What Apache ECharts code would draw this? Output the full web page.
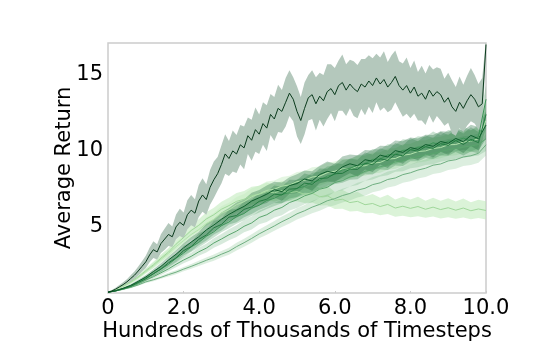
<!DOCTYPE html>
<html>
<head>
<meta charset="utf-8">
<script src="https://cdn.jsdelivr.net/npm/echarts@6/dist/echarts.min.js"></script>
<style>
  html, body { margin: 0; padding: 0; background: #fff; }
  #chart { width: 540px; height: 360px; }
</style>
</head>
<body>
<div id="chart"></div>
<script>
// x axis: hundreds of thousands of timesteps
const xTicks = [0, 2, 4, 6, 8, 10];
const yTicks = [5, 10, 15];

// dark run (sampled every 0.1)
const meanA = [
  0.50, 0.58, 0.70, 0.85, 1.00, 1.18, 1.40, 1.62, 1.90, 2.20,
  2.50, 2.95, 3.30, 3.15, 3.70, 4.00, 4.30, 4.15, 4.80, 5.10,
  4.90, 5.60, 5.90, 5.70, 6.50, 6.90, 6.60, 7.40, 7.90, 8.30,
  8.90, 9.60, 9.30, 9.80, 9.60, 10.20, 10.00, 10.80, 10.50, 11.20,
  10.90, 11.60, 11.30, 12.20, 11.90, 12.60, 12.40, 13.00, 13.60, 13.20,
  12.40, 11.80, 12.60, 13.30, 13.50, 12.90, 13.40, 13.10, 13.70, 13.90,
  13.50, 14.10, 14.30, 13.80, 14.20, 13.90, 13.70, 14.20, 14.00, 14.40,
  14.10, 14.60, 14.20, 14.50, 14.00, 14.30, 14.70, 14.10, 13.80, 14.10,
  13.60, 14.00, 13.40, 13.60, 13.20, 13.80, 13.40, 13.70, 13.50, 13.00,
  13.30, 12.70, 12.40, 13.00, 12.60, 13.10, 13.50, 13.20, 12.70, 12.90,
  16.80
];
const spreadA = [
  0.05, 0.07, 0.10, 0.12, 0.15, 0.18, 0.22, 0.25, 0.30, 0.34,
  0.40, 0.48, 0.55, 0.50, 0.62, 0.70, 0.75, 0.68, 0.82, 0.90,
  0.85, 0.95, 1.00, 0.92, 1.05, 1.10, 1.00, 1.15, 1.20, 1.10,
  1.25, 1.30, 1.15, 1.35, 1.25, 1.30, 1.40, 1.20, 1.35, 1.45,
  1.30, 1.40, 1.50, 1.35, 1.45, 1.55, 1.40, 1.60, 1.50, 1.45,
  1.65, 1.55, 1.70, 1.50, 1.60, 1.75, 1.55, 1.70, 1.80, 1.60,
  1.75, 1.65, 1.85, 1.70, 1.60, 1.80, 1.75, 1.65, 1.85, 1.70,
  1.80, 1.60, 1.75, 1.85, 1.65, 1.80, 1.70, 1.60, 1.75, 1.85,
  1.65, 1.75, 1.60, 1.80, 1.70, 1.65, 1.75, 1.60, 1.70, 1.55,
  1.65, 1.75, 1.60, 1.70, 1.55, 1.65, 1.75, 1.60, 1.50, 1.70,
  0.40
];

// other runs (sampled every 0.2)
const meanB = [
  0.50, 0.60, 0.76, 0.95, 1.22, 1.50, 1.86, 2.20, 2.62, 3.00,
  3.42, 3.80, 4.15, 4.60, 4.92, 5.30, 5.62, 5.90, 6.15, 6.50,
  6.72, 6.95, 7.25, 7.12, 7.52, 7.65, 7.95, 7.82, 8.25, 8.45,
  8.35, 8.75, 8.95, 8.82, 9.22, 9.12, 9.52, 9.40, 9.82, 9.70,
  10.02, 9.90, 10.22, 10.10, 10.42, 10.30, 10.62, 10.40, 10.82, 10.60,
  11.50
];
const spreadB = [
  0.02, 0.04, 0.06, 0.08, 0.10, 0.13, 0.16, 0.20, 0.22, 0.26,
  0.30, 0.34, 0.32, 0.40, 0.38, 0.45, 0.42, 0.50, 0.46, 0.54,
  0.50, 0.58, 0.52, 0.60, 0.55, 0.62, 0.56, 0.64, 0.58, 0.66,
  0.60, 0.68, 0.62, 0.70, 0.64, 0.70, 0.62, 0.72, 0.66, 0.74,
  0.66, 0.72, 0.64, 0.74, 0.68, 0.76, 0.66, 0.74, 0.70, 0.78,
  0.90
];
const meanC = [
  0.50, 0.58, 0.73, 0.88, 1.14, 1.38, 1.72, 2.02, 2.43, 2.76,
  3.24, 3.50, 3.98, 4.26, 4.74, 4.96, 5.44, 5.55, 5.95, 6.12,
  6.48, 6.62, 6.95, 6.90, 7.28, 7.32, 7.68, 7.60, 7.98, 8.02,
  8.30, 8.32, 8.60, 8.58, 8.98, 8.90, 9.28, 9.18, 9.58, 9.48,
  9.88, 9.78, 10.08, 9.96, 10.28, 10.16, 10.48, 10.22, 10.56, 10.34,
  12.20
];
const spreadC = [
  0.02, 0.03, 0.05, 0.08, 0.11, 0.12, 0.17, 0.18, 0.24, 0.25,
  0.32, 0.30, 0.38, 0.36, 0.44, 0.40, 0.48, 0.44, 0.52, 0.48,
  0.56, 0.50, 0.58, 0.54, 0.62, 0.56, 0.64, 0.58, 0.66, 0.60,
  0.68, 0.62, 0.70, 0.64, 0.72, 0.66, 0.70, 0.64, 0.74, 0.68,
  0.76, 0.66, 0.74, 0.70, 0.78, 0.68, 0.76, 0.72, 0.80, 0.70,
  0.90
];
const meanD = [
  0.50, 0.61, 0.74, 0.93, 1.14, 1.44, 1.70, 2.03, 2.33, 2.73,
  3.08, 3.48, 3.78, 4.18, 4.48, 4.88, 5.12, 5.48, 5.68, 6.04,
  6.22, 6.54, 6.68, 6.94, 7.06, 7.34, 7.46, 7.74, 7.86, 8.14,
  8.26, 8.54, 8.66, 8.84, 8.96, 9.24, 9.26, 9.54, 9.56, 9.84,
  9.86, 10.04, 10.06, 10.34, 10.16, 10.44, 10.46, 10.64, 10.46, 10.74,
  13.20
];
const spreadD = [
  0.02, 0.04, 0.05, 0.07, 0.10, 0.14, 0.15, 0.20, 0.21, 0.27,
  0.28, 0.34, 0.33, 0.40, 0.37, 0.44, 0.41, 0.48, 0.45, 0.52,
  0.47, 0.56, 0.50, 0.58, 0.52, 0.60, 0.55, 0.63, 0.57, 0.64,
  0.58, 0.66, 0.60, 0.68, 0.62, 0.68, 0.63, 0.70, 0.64, 0.72,
  0.65, 0.72, 0.66, 0.74, 0.67, 0.74, 0.68, 0.76, 0.70, 0.76,
  0.90
];
const meanE = [
  0.50, 0.58, 0.70, 0.86, 1.06, 1.30, 1.52, 1.78, 2.04, 2.34,
  2.62, 2.86, 3.16, 3.40, 3.74, 4.00, 4.28, 4.52, 4.84, 5.06,
  5.42, 5.60, 5.90, 6.08, 6.40, 6.58, 6.84, 7.00, 7.28, 7.40,
  7.72, 7.84, 8.08, 8.20, 8.46, 8.58, 8.76, 8.86, 9.08, 9.14,
  9.32, 9.42, 9.54, 9.62, 9.76, 9.88, 9.96, 10.06, 10.12, 10.22,
  10.60
];
const spreadE = [
  0.02, 0.03, 0.05, 0.06, 0.08, 0.10, 0.12, 0.14, 0.16, 0.19,
  0.21, 0.24, 0.26, 0.29, 0.31, 0.34, 0.36, 0.38, 0.40, 0.43,
  0.44, 0.47, 0.48, 0.51, 0.52, 0.54, 0.55, 0.58, 0.58, 0.61,
  0.60, 0.63, 0.62, 0.65, 0.63, 0.66, 0.64, 0.67, 0.65, 0.68,
  0.66, 0.69, 0.67, 0.70, 0.68, 0.70, 0.68, 0.71, 0.69, 0.72,
  0.80
];
const meanF = [
  0.50, 0.60, 0.70, 0.82, 0.98, 1.18, 1.32, 1.48, 1.66, 1.82,
  2.02, 2.20, 2.40, 2.60, 2.78, 3.00, 3.20, 3.50, 3.76, 4.04,
  4.34, 4.60, 4.86, 5.14, 5.38, 5.66, 5.86, 6.10, 6.28, 6.52,
  6.66, 6.86, 7.00, 7.22, 7.34, 7.58, 7.70, 7.92, 8.02, 8.24,
  8.36, 8.54, 8.66, 8.86, 8.94, 9.14, 9.22, 9.40, 9.48, 9.64,
  10.20
];
const spreadF = [
  0.02, 0.03, 0.04, 0.05, 0.06, 0.08, 0.09, 0.10, 0.12, 0.13,
  0.14, 0.16, 0.17, 0.19, 0.20, 0.22, 0.23, 0.25, 0.26, 0.28,
  0.29, 0.31, 0.32, 0.34, 0.35, 0.37, 0.38, 0.40, 0.41, 0.43,
  0.44, 0.45, 0.46, 0.48, 0.49, 0.50, 0.51, 0.52, 0.53, 0.54,
  0.55, 0.56, 0.57, 0.58, 0.58, 0.59, 0.60, 0.60, 0.61, 0.62,
  0.70
];
const meanG = [
  0.50, 0.68, 0.92, 1.18, 1.52, 1.92, 2.30, 2.74, 3.14, 3.66,
  4.10, 4.56, 4.90, 5.32, 5.60, 5.96, 6.20, 6.48, 6.62, 6.86,
  6.94, 7.12, 7.04, 7.20, 7.06, 7.12, 6.94, 7.02, 6.78, 6.86,
  6.55, 6.62, 6.40, 6.48, 6.26, 6.34, 6.14, 6.28, 6.04, 6.16,
  6.02, 6.14, 5.96, 6.10, 5.94, 6.06, 5.90, 6.04, 5.86, 5.98,
  5.88
];
const spreadG = [
  0.02, 0.04, 0.07, 0.10, 0.13, 0.16, 0.20, 0.24, 0.27, 0.31,
  0.34, 0.38, 0.41, 0.44, 0.46, 0.50, 0.52, 0.55, 0.54, 0.58,
  0.56, 0.60, 0.57, 0.62, 0.58, 0.63, 0.56, 0.62, 0.58, 0.64,
  0.57, 0.62, 0.58, 0.64, 0.56, 0.62, 0.58, 0.63, 0.57, 0.62,
  0.58, 0.64, 0.56, 0.62, 0.58, 0.63, 0.57, 0.62, 0.56, 0.60,
  0.60
];
const meanH = [
  0.50, 0.66, 0.88, 1.14, 1.46, 1.86, 2.24, 2.66, 3.06, 3.50,
  3.90, 4.30, 4.62, 5.02, 5.30, 5.70, 5.92, 6.26, 6.46, 6.78,
  6.98, 7.20, 7.28, 7.48, 7.56, 7.78, 7.86, 8.08, 8.14, 8.36,
  8.46, 8.62, 8.60, 8.80, 8.82, 9.00, 9.04, 9.26, 9.30, 9.52,
  9.58, 9.76, 9.80, 9.96, 10.02, 10.20, 10.22, 10.38, 10.44, 10.60,
  11.80
];
const spreadH = [
  0.02, 0.04, 0.06, 0.09, 0.12, 0.15, 0.18, 0.22, 0.25, 0.28,
  0.31, 0.35, 0.37, 0.40, 0.42, 0.46, 0.47, 0.50, 0.51, 0.54,
  0.55, 0.58, 0.58, 0.61, 0.60, 0.63, 0.62, 0.65, 0.63, 0.66,
  0.64, 0.67, 0.65, 0.68, 0.66, 0.69, 0.67, 0.70, 0.68, 0.71,
  0.69, 0.72, 0.70, 0.72, 0.71, 0.73, 0.71, 0.74, 0.72, 0.74,
  0.90
];

function steps(n, step) {
  const out = [];
  for (let i = 0; i < n; i++) out.push(+(i * step).toFixed(2));
  return out;
}

const series = [];
function addRun(mean, spread, step, line, band, width) {
  const xs = steps(mean.length, step);
  const rows = xs.map((x, i) => [x, mean[i] - spread[i], mean[i] + spread[i]]);
  // shaded band drawn as one polygon through the axis scales
  series.push({
    type: 'custom', silent: true, clip: true,
    encode: { x: 0, y: [1, 2] },
    data: rows,
    renderItem: function (params, api) {
      if (params.dataIndex !== 0) return;
      const pts = [];
      for (let i = 0; i < rows.length; i++) pts.push(api.coord([rows[i][0], rows[i][1]]));
      for (let i = rows.length - 1; i >= 0; i--) pts.push(api.coord([rows[i][0], rows[i][2]]));
      return { type: 'polygon', shape: { points: pts }, style: { fill: band } };
    }
  });
  series.push({
    type: 'line', symbol: 'none', silent: true,
    lineStyle: { color: line, width: width },
    data: xs.map((x, i) => [x, mean[i]])
  });
}

addRun(meanG, spreadG, 0.2, '#9fd69a', 'rgba(190,234,184,0.55)', 1);
addRun(meanH, spreadH, 0.2, '#b2e2ab', 'rgba(195,235,190,0.45)', 1);
addRun(meanF, spreadF, 0.2, '#6fae80', 'rgba(140,200,150,0.3)', 1);
addRun(meanE, spreadE, 0.2, '#5aa56d', 'rgba(95,170,115,0.25)', 1);
addRun(meanD, spreadD, 0.2, '#3d9457', 'rgba(65,150,90,0.28)', 1);
addRun(meanC, spreadC, 0.2, '#237a40', 'rgba(35,125,65,0.28)', 1);
addRun(meanB, spreadB, 0.2, '#0e5c2c', 'rgba(15,95,45,0.3)', 1);
addRun(meanA, spreadA, 0.1, '#0a3a1c', '#b4c8bc', 1);

const chart = echarts.init(document.getElementById('chart'));
chart.setOption({
  animation: false,
  textStyle: { fontFamily: 'DejaVu Sans' },
  grid: {
    left: 108, right: 54, top: 43, bottom: 67,
    show: true, borderColor: '#cccccc', borderWidth: 1.5, backgroundColor: '#fff'
  },
  xAxis: {
    type: 'value', min: 0, max: 10, interval: 2,
    name: 'Hundreds of Thousands of Timesteps',
    nameLocation: 'middle', nameGap: 28, nameMoveOverlap: false,
    nameTextStyle: { color: '#000', fontSize: 21, fontFamily: 'DejaVu Sans' },
    axisLine: { show: false },
    axisTick: { show: true, inside: true, length: 2, lineStyle: { color: '#cccccc' } },
    splitLine: { show: false },
    axisLabel: {
      color: '#000', fontSize: 21, margin: 5,
      formatter: v => (v === 0 ? '0' : v.toFixed(1))
    }
  },
  yAxis: {
    type: 'value', min: 0.45, max: 16.9,
    name: 'Average Return',
    nameLocation: 'middle', nameGap: 33, nameMoveOverlap: false,
    nameTextStyle: { color: '#000', fontSize: 21, fontFamily: 'DejaVu Sans' },
    axisLine: { show: false },
    axisTick: { show: false },
    splitLine: { show: false },
    axisLabel: {
      color: '#000', fontSize: 21, margin: 5,
      customValues: yTicks,
      formatter: v => '{t|' + v + '}',
      rich: { t: { fontSize: 21, color: '#000', padding: [5, 0, 0, 0] } }
    }
  },
  series: series
});
</script>
</body>
</html>
